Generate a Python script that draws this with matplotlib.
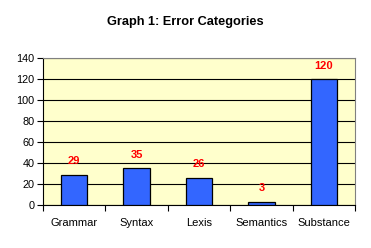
import numpy as np
import matplotlib.pyplot as plt

plt.rcParams['font.family'] = ['Liberation Sans', 'DejaVu Sans']

# data
categories = ['Grammar', 'Syntax', 'Lexis', 'Semantics', 'Substance']
counts = [29, 35, 26, 3, 120]

fig = plt.figure(figsize=(3.71, 2.48), dpi=100)
ax = fig.add_axes([43 / 371, 43 / 248, 312 / 371, 147 / 248])
ax.set_facecolor('#FFFFCC')

xpos = np.arange(len(categories))
ax.bar(xpos, counts, width=0.42, color='#3366FF', edgecolor='black',
       linewidth=0.9, zorder=3)

# value labels above the bars
for xi, v in zip(xpos, counts):
    ax.text(xi, v + 8, str(v), ha='center', va='bottom', color='red',
            fontsize=8, fontweight='bold', zorder=4)

ax.set_xlim(-0.5, len(categories) - 0.5)
ax.set_ylim(0, 140)
ax.set_yticks(np.arange(0, 141, 20))
ax.yaxis.grid(True, color='black', linewidth=0.8, zorder=1)
ax.set_axisbelow(True)

# ticks on the category boundaries, labels at the centres
ax.set_xticks(np.arange(-0.5, len(categories)), minor=False)
ax.set_xticklabels([])
ax.set_xticks(xpos, minor=True)
ax.set_xticklabels(categories, minor=True)
ax.tick_params(axis='x', which='major', length=4, direction='out', width=0.8)
ax.tick_params(axis='x', which='minor', length=0, pad=9, labelsize=8)
ax.tick_params(axis='y', length=4, direction='out', width=0.8, labelsize=7.8, pad=2)

for side in ['left', 'bottom']:
    ax.spines[side].set_color('black')
    ax.spines[side].set_linewidth(0.8)
for side in ['top', 'right']:
    ax.spines[side].set_color('#808080')
    ax.spines[side].set_linewidth(0.8)

fig.text(185 / 371, 1 - 22 / 248, 'Graph 1: Error Categories', ha='center',
         va='center', fontsize=9.2, fontweight='bold')

fig.savefig('out.png', dpi=100)
